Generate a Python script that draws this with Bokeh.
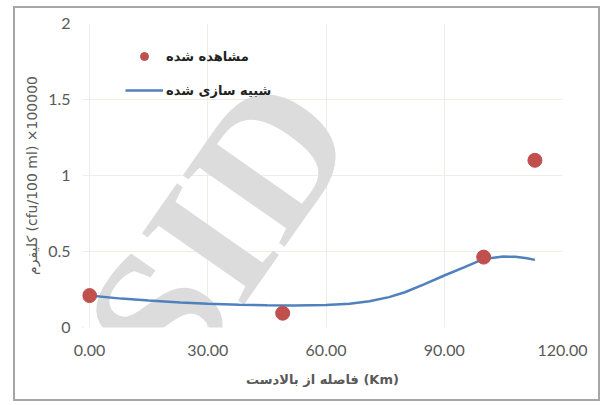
from bokeh.plotting import figure
from bokeh.models import Legend, LegendItem, FixedTicker, Label, NumeralTickFormatter
from bokeh.embed import file_html
from bokeh.resources import INLINE

# Observed data (مشاهده شده)
obs_x = [0, 49, 100, 113]
obs_y = [0.21, 0.094, 0.463, 1.10]

# Simulated curve (شبیه سازی شده)
sim_x = [0, 8, 15, 23, 30, 38, 45, 52, 60, 66, 71, 76, 80, 85, 90, 95, 99, 102, 105, 108, 111, 113]
sim_y = [0.21, 0.19, 0.178, 0.165, 0.156, 0.15, 0.146, 0.145, 0.148, 0.157, 0.173, 0.2,
         0.232, 0.285, 0.342, 0.395, 0.44, 0.458, 0.467, 0.465, 0.455, 0.445]

x_ticks = [0, 30, 60, 90, 120]
y_ticks = [0, 0.5, 1, 1.5, 2]
y_tick_labels = ["0", "0.5", "1", "1.5", "2"]

obs_label = "مشاهده شده"
sim_label = "شبیه سازی شده"
x_title = "فاصله از بالادست (Km)"
y_title = "کلیفرم (cfu/100 ml) ×100000"

p = figure(width=587, height=395, x_range=(-1.8, 120), y_range=(0, 2),
           output_backend="svg", toolbar_location=None,
           min_border_left=67, min_border_right=40, min_border_top=15, min_border_bottom=76)
p.styles = {"border": "2px solid #a6a6a6", "margin-left": "13px", "margin-top": "6px"}
p.outline_line_color = None
p.background_fill_color = "white"

# watermark (drawn under the data)
wm = Label(x=28, y=0.47, text="fSID", angle=55, angle_units="deg",
           text_align="center", text_baseline="middle",
           text_font="Liberation Serif", text_font_style="bold",
           text_font_size="190px", text_color="#dcdcdc", level="underlay")
p.add_layout(wm)

r_line = p.line(sim_x, sim_y, line_color="#4f81bd", line_width=2.5)
r_obs = p.scatter(obs_x, obs_y, size=14, fill_color="#c0504d", line_color="#c0504d")

for ax in (p.xaxis[0], p.yaxis[0]):
    ax.axis_line_color = None
    ax.major_tick_line_color = None
    ax.minor_tick_line_color = None
    ax.major_tick_out = 0
    ax.major_tick_in = 0
    ax.major_label_text_font = "Lato"
    ax.major_label_text_font_size = "16px"
    ax.major_label_text_color = "#595959"
    ax.axis_label_text_color = "#595959"

p.xaxis.ticker = FixedTicker(ticks=x_ticks)
p.xaxis.formatter = NumeralTickFormatter(format="0.00")
p.xaxis.major_label_standoff = 17
p.xaxis.axis_label = x_title
p.xaxis.axis_label_text_font = "DejaVu Sans"
p.xaxis.axis_label_text_font_style = "bold"
p.xaxis.axis_label_text_font_size = "13px"
p.xaxis.axis_label_standoff = 13

p.yaxis.ticker = FixedTicker(ticks=y_ticks)
p.yaxis.major_label_overrides = {t: l for t, l in zip(y_ticks, y_tick_labels)}
p.yaxis.major_label_standoff = 12
p.yaxis.axis_label = y_title
p.yaxis.axis_label_text_font = "DejaVu Sans"
p.yaxis.axis_label_text_font_style = "normal"
p.yaxis.axis_label_text_font_size = "14px"
p.yaxis.axis_label_standoff = 5

p.xgrid.ticker = FixedTicker(ticks=x_ticks)
p.ygrid.ticker = FixedTicker(ticks=y_ticks)
p.grid.grid_line_color = "#eeede8"
p.grid.grid_line_width = 1

legend = Legend(items=[LegendItem(label=obs_label, renderers=[r_obs]),
                       LegendItem(label=sim_label, renderers=[r_line])],
                location=(43, 227), padding=0, margin=0, spacing=14,
                glyph_width=38, glyph_height=20, label_standoff=3,
                label_text_font="DejaVu Sans", label_text_font_size="13px",
                label_text_font_style="bold", label_text_color="#222222",
                border_line_color=None, background_fill_alpha=0)
p.add_layout(legend)

open("out.html", "w").write(file_html(p, INLINE))
